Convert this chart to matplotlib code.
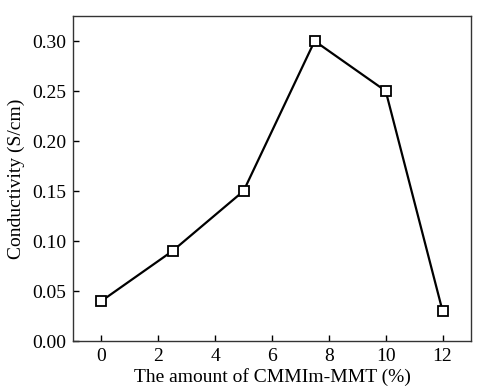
import matplotlib
matplotlib.use('Agg')
import matplotlib.pyplot as plt

amount = [0, 2.5, 5, 7.5, 10, 12]
conductivity = [0.04, 0.09, 0.15, 0.30, 0.25, 0.03]
xticks = [0, 2, 4, 6, 8, 10, 12]
yticks = [0.00, 0.05, 0.10, 0.15, 0.20, 0.25, 0.30]

plt.rcParams['font.family'] = 'Liberation Serif'

fig = plt.figure(figsize=(4.8, 3.89), dpi=100)
ax = fig.add_axes([73/480, 1-341/389, (471-73)/480, (341-16)/389])
ax.plot(amount, conductivity, color='black', lw=1.6, marker='s', ms=7,
        mfc='white', mec='black', mew=1.3)
ax.set_xlim(-1, 13)
ax.set_ylim(0, 0.325)
ax.set_xticks(xticks)
ax.set_yticks(yticks)
ax.set_yticklabels(['%.2f' % v for v in yticks])
ax.tick_params(direction='in', length=4, width=1, labelsize=14, pad=5)
for s in ax.spines.values():
    s.set_color('#333333')
    s.set_linewidth(1)
ax.set_xlabel('The amount of CMMIm-MMT (%)', fontsize=14, labelpad=2)
ax.set_ylabel('Conductivity (S/cm)', fontsize=14, labelpad=5)
fig.savefig('out.png')
